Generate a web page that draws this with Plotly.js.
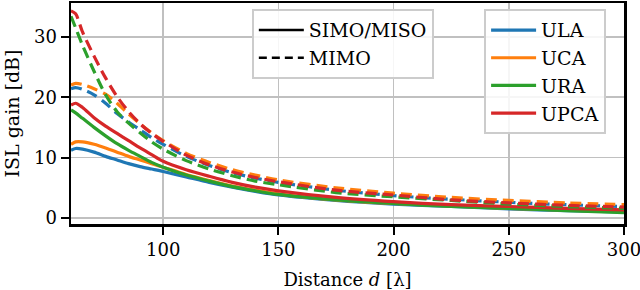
<!DOCTYPE html>
<html>
<head>
<meta charset="utf-8">
<script src="https://cdn.plot.ly/plotly-3.0.1.min.js"></script>
<style>html,body{margin:0;padding:0;background:#fff;}#chart{width:640px;height:290px;}</style>
</head>
<body>
<div id="chart"></div>
<script>
// Distance d [λ]
const distance = [60, 62, 65, 70, 75, 80, 85, 90, 95, 100, 110, 120, 130, 140, 150, 175, 200, 225, 250, 275, 300];

// SIMO/MISO (solid)
const simoULA  = [11.2, 11.5, 11.4, 10.9, 10.2, 9.6, 9.0, 8.5, 8.1, 7.7, 6.8, 5.9, 5.1, 4.4, 3.8, 2.9, 2.3, 1.9, 1.5, 1.2, 1.0];
const simoUCA  = [12.2, 12.6, 12.6, 12.2, 11.6, 10.9, 10.2, 9.6, 9.0, 8.4, 7.2, 6.2, 5.3, 4.6, 4.0, 3.0, 2.4, 2.0, 1.6, 1.3, 1.1];
const simoURA  = [17.9, 17.4, 16.5, 15.0, 13.6, 12.3, 11.2, 10.2, 9.2, 8.4, 7.1, 6.1, 5.2, 4.5, 3.9, 3.0, 2.4, 1.9, 1.6, 1.2, 0.9];
const simoUPCA = [18.7, 19.0, 18.3, 16.6, 15.2, 14.0, 12.8, 11.6, 10.5, 9.4, 8.0, 6.9, 5.9, 5.1, 4.5, 3.4, 2.7, 2.2, 1.9, 1.6, 1.35];

// MIMO (dashed)
const mimoULA  = [21.4, 21.6, 21.3, 20.4, 19.0, 17.3, 15.9, 14.6, 13.3, 12.2, 10.2, 8.7, 7.5, 6.6, 5.9, 4.6, 3.7, 3.1, 2.6, 2.2, 1.9];
const mimoUCA  = [22.0, 22.3, 22.1, 21.4, 20.5, 19.0, 17.2, 15.6, 14.1, 12.8, 10.7, 9.2, 8.0, 7.1, 6.3, 5.0, 4.1, 3.4, 2.9, 2.5, 2.2];
const mimoURA  = [33.4, 31.5, 28.6, 24.3, 20.4, 17.6, 15.7, 14.1, 12.6, 11.4, 9.5, 8.1, 7.0, 6.1, 5.5, 4.2, 3.5, 2.9, 2.3, 1.9, 1.6];
const mimoUPCA = [34.3, 33.8, 30.8, 26.8, 23.2, 20.1, 17.6, 15.6, 14.0, 12.7, 10.4, 8.8, 7.6, 6.7, 6.0, 4.6, 3.8, 3.0, 2.5, 2.1, 1.8];

const arrayNames = ['ULA', 'UCA', 'URA', 'UPCA'];
const modeNames = ['SIMO/MISO', 'MIMO'];
const xTicks = [100, 150, 200, 250, 300];
const yTicks = [0, 10, 20, 30];

const colors = ['#1f77b4', '#ff7f0e', '#2ca02c', '#d62728'];
const simo = [simoULA, simoUCA, simoURA, simoUPCA];
const mimo = [mimoULA, mimoUCA, mimoURA, mimoUPCA];
const dashPat = '11px,6px';

const traces = [];
for (let i = 0; i < 4; i++) {
  traces.push({
    x: distance, y: simo[i], type: 'scatter', mode: 'lines', name: arrayNames[i],
    line: {color: colors[i], width: 3.2, shape: 'spline', smoothing: 0.8},
    legend: 'legend2', showlegend: true, hoverinfo: 'skip'
  });
}
for (let i = 0; i < 4; i++) {
  traces.push({
    x: distance, y: mimo[i], type: 'scatter', mode: 'lines', name: arrayNames[i] + ' MIMO',
    line: {color: colors[i], width: 3.2, dash: dashPat, shape: 'spline', smoothing: 0.8},
    showlegend: false, hoverinfo: 'skip'
  });
}
traces.push({x: [null], y: [null], type: 'scatter', mode: 'lines', name: modeNames[0],
  line: {color: '#000', width: 2.5}, legend: 'legend', showlegend: true});
traces.push({x: [null], y: [null], type: 'scatter', mode: 'lines', name: modeNames[1],
  line: {color: '#000', width: 2.5, dash: '8px,5px'}, legend: 'legend', showlegend: true});

const font = {family: 'DejaVu Serif', size: 18, color: '#000'};
const legFont = {family: 'DejaVu Serif', size: 19, color: '#000'};

const layout = {
  width: 640, height: 290,
  margin: {l: 71, r: 16, t: 3, b: 66},
  paper_bgcolor: '#fff', plot_bgcolor: '#fff',
  font: font,
  showlegend: true,
  xaxis: {
    range: [60, 300.001], tickvals: xTicks, ticktext: xTicks.map(String),
    showgrid: true, gridcolor: '#c0c0c0', gridwidth: 1.5,
    showline: true, linecolor: '#000', linewidth: 2.5, mirror: true,
    ticks: 'outside', ticklen: 8, tickwidth: 2, tickcolor: '#000',
    zeroline: false, tickfont: font, automargin: false, ticklabeloverflow: 'allow',
    title: {text: 'Distance <i>d</i> [λ]', font: font, standoff: 19}
  },
  yaxis: {
    range: [-1, 35.6], tickvals: yTicks, ticktext: yTicks.map(String),
    showgrid: true, gridcolor: '#c0c0c0', gridwidth: 1.5,
    showline: true, linecolor: '#000', linewidth: 2.5, mirror: true,
    ticks: 'outside', ticklen: 8, tickwidth: 2, tickcolor: '#000',
    zeroline: false, tickfont: font, automargin: false,
    title: {text: 'ISL gain [dB]', font: legFont, standoff: 10}
  },
  legend: {
    x: 0.327, y: 0.972, xanchor: 'left', yanchor: 'top',
    bgcolor: 'rgba(255,255,255,0.85)', bordercolor: '#cccccc', borderwidth: 2,
    font: legFont, tracegroupgap: 0, itemwidth: 45
  },
  legend2: {
    x: 0.747, y: 0.972, xanchor: 'left', yanchor: 'top',
    bgcolor: 'rgba(255,255,255,0.85)', bordercolor: '#cccccc', borderwidth: 2,
    font: legFont, tracegroupgap: 0, itemwidth: 45
  }
};

Plotly.newPlot('chart', traces, layout, {staticPlot: true, displayModeBar: false});
</script>
</body>
</html>
